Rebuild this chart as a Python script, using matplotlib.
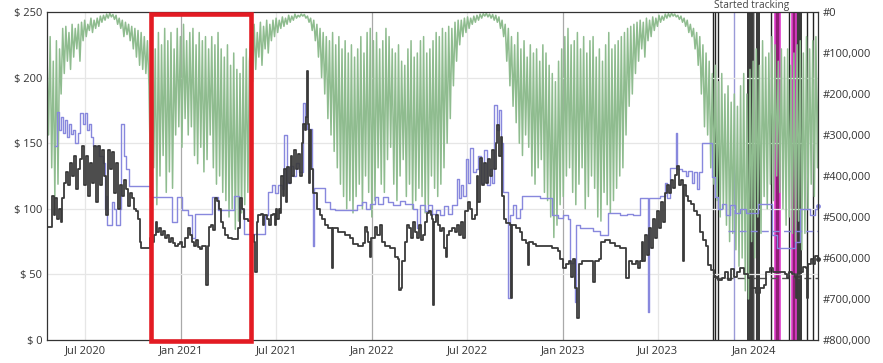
import numpy as np
import matplotlib
matplotlib.use("Agg")
import matplotlib.pyplot as plt
import matplotlib.dates as mdates
import matplotlib.transforms as mtransforms
from matplotlib.patches import Rectangle

plt.rcParams['font.family'] = ['Open Sans', 'DejaVu Sans']

# ---------------- data ----------------
start_date = '2020-04-19'
end_day = 1474
rank_step_days = 3

# sales rank (thousands), sampled every 3 days from start_date
sales_rank_k = [
    # spring 2020
    100, 300, 60, 380, 120, 450, 70, 420, 90, 200,
    40, 150, 35, 120, 50, 140, 30, 110, 40, 90, 30,
    120, 25, 70, 20, 60, 30, 45, 15, 50, 20, 40, 15,
    35, 10, 25, 8, 20, 5, 15, 3, 12, 6, 18, 8,
    30, 15, 40, 20, 60, 25, 55, 30, 70, 35, 90, 40, 110, 45, 130, 50, 140, 60, 150, 70, 180,
    # winter 2020/21
    420, 60, 380, 90, 470, 50, 400, 80, 350, 40, 440, 70, 390, 50, 430, 90, 300, 40, 280, 60,
    330, 30, 260, 70, 300, 50, 280, 40, 350, 80, 370, 50, 330, 70, 390, 60, 360, 90, 300, 60,
    380, 80, 420, 50, 400, 90, 440, 110, 460, 80, 500, 130, 480, 100, 530, 140, 510, 150, 490, 110,
    470, 90, 440, 120,
    # summer 2021
    60, 170, 30, 140, 50, 110, 25, 130, 35, 90, 20, 100, 30, 70, 20, 60, 15, 50, 20, 40,
    12, 35, 15, 30, 8, 25, 10, 20, 5, 15, 8, 12,
    5, 10, 6, 15, 10, 25, 15, 45, 20, 70, 30, 110, 40, 160, 50, 200, 60, 260, 70, 300,
    50, 340, 80, 380, 60, 420, 90, 450, 70, 480, 100, 460, 80, 490, 110,
    # winter 2021/22
    450, 90, 420, 60, 480, 100, 400, 50, 440, 40, 500, 70, 460, 50, 380, 90, 420, 70, 440, 40,
    360, 60, 330, 90, 420, 100, 460, 80, 400, 120, 360, 130, 450, 90, 420, 70, 480, 110, 460, 100,
    430, 70, 450, 60, 490, 100, 470, 90, 400, 70, 430, 50, 450, 60, 420, 40, 380, 50, 320, 35,
    260, 40, 180, 25, 120, 20,
    # summer 2022
    80, 20, 60, 15, 50, 12, 40, 15, 30, 10, 25, 8, 20, 5, 15, 4, 10, 3, 12, 5,
    15, 6, 20, 8, 25, 12, 40, 20, 60, 30, 120, 40, 180,
    60, 230, 80, 270, 50, 320, 90, 350, 70, 300, 110, 330, 80, 400, 100, 420, 90, 380, 120, 360,
    80, 440, 100, 460, 130, 500, 150, 550, 170, 520, 120, 470, 90,
    # winter 2022/23
    450, 60, 400, 40, 380, 80, 440, 70, 470, 50, 420, 90, 380, 60, 480, 100, 450, 70, 400, 60,
    430, 110, 500, 90, 510, 120, 440, 80, 470, 50, 490, 90, 460, 80, 430, 70, 400, 60, 380, 50,
    300, 40, 230, 35, 200, 30, 150,
    # summer 2023
    25, 120, 20, 90, 25, 110, 15, 70, 20, 60, 12, 45, 15, 35, 8, 25, 10, 20, 5, 15,
    4, 12, 3, 10, 5, 12, 8, 18, 10, 25, 15, 35, 20, 50, 30,
    60, 40, 90, 50, 130, 60, 200, 80, 280, 100, 300, 120, 380, 150, 420, 130, 460, 170, 500, 150,
    480, 200, 520, 180, 560, 220, 540, 200, 580, 230, 620, 180, 600, 150, 680, 200, 700, 140,
    # winter 2023/24
    560, 120, 600, 90, 500, 130, 540, 70, 450, 110, 480, 100, 420, 60, 460, 80, 400, 120, 440, 90,
    480, 110, 520, 90, 500, 130, 540, 100, 560, 80, 510, 70, 580, 100, 540, 60, 480, 90, 420, 70,
    450, 60, 380, 90,
]

# used price (dark line): day offset from start_date, price in $
used_days = [
    0, 10, 13, 15, 19, 23, 27, 29, 33, 36, 40, 44, 48, 52, 55, 59, 63, 67, 71, 75,
    78, 82, 86, 90, 94, 98, 101, 105, 109, 113, 117, 120, 124, 128, 132, 136, 140, 143, 147, 151,
    155, 159, 163, 166, 170, 174, 178, 180, 193, 197, 201, 205, 208, 210, 214, 218, 222, 226, 229, 233,
    237, 241, 245, 250, 254, 258, 264, 270, 273, 277, 281, 285, 289, 293, 296, 300, 304, 308, 310, 314,
    317, 321, 325, 329, 333, 337, 340, 346, 354, 361, 365, 369, 373, 377, 384, 390,
    392, 396, 398, 402, 403, 409, 413, 415, 421, 424, 428, 432, 436, 438, 440, 444, 446,
    447, 451, 453, 457, 459, 463, 467, 468, 472, 476, 480, 484, 488, 489, 493, 495, 497, 499, 501, 503,
    505, 509, 516, 522, 526, 532, 537, 543, 545, 547, 553, 556, 570, 579,
    585, 595, 604, 608, 612, 614, 618, 619, 627, 631, 637, 641, 646, 656, 662, 665, 671, 673, 677, 679,
    684, 688, 692, 696, 700, 704, 707, 711, 715, 719, 723, 727, 730, 734, 736, 738, 740, 744, 748, 751,
    755, 759, 763, 765, 769, 774, 780,
    784, 788, 792, 795, 799, 805, 809, 813, 818, 822, 824, 828, 832, 836, 839, 843, 847, 851, 855, 858,
    860, 864, 868, 870, 874, 878, 885, 887, 889, 897, 904, 908, 916, 920, 922, 929, 935, 952, 966, 977,
    981, 987, 992, 998, 1002, 1006, 1010, 1013, 1017, 1023, 1038, 1044, 1048, 1055, 1059, 1067, 1076, 1086, 1096, 1103,
    1107, 1113, 1119, 1126, 1130, 1134, 1138, 1140, 1143, 1147, 1151, 1155, 1159, 1163, 1166, 1170, 1174, 1178, 1182,
    1185, 1189, 1193, 1197, 1201, 1205, 1208, 1212, 1216, 1218, 1222, 1226, 1231, 1237, 1243, 1249, 1254, 1260, 1264, 1270,
    1275, 1283, 1291, 1296, 1302, 1308, 1314, 1319, 1325, 1333, 1340, 1348, 1356, 1363, 1371, 1375, 1382, 1388, 1401, 1411,
    1415, 1419, 1424, 1430, 1432, 1434, 1440, 1445, 1451, 1453, 1455, 1461, 1465, 1468, 1474,
]
used_price = [
    86, 110, 95, 108, 92, 100, 90, 108, 120, 128, 118, 135, 125, 140, 115, 130, 138, 148, 118, 140,
    110, 135, 120, 148, 105, 148, 118, 145, 125, 95, 145, 130, 143, 112, 135, 100, 118, 110, 122, 115,
    102, 112, 108, 100, 98, 92, 75, 70, 70, 78, 75, 80, 90, 82, 85, 80, 83, 78, 80, 75,
    78, 74, 72, 73, 75, 71, 78, 85, 80, 75, 72, 76, 71, 69, 72, 72, 42, 72, 86, 88,
    84, 108, 106, 100, 90, 85, 80, 78, 77, 77, 85, 108, 100, 92, 91, 91,
    80, 75, 52, 90, 95, 96, 88, 95, 92, 88, 95, 96, 88, 100, 92, 100, 97,
    125, 110, 130, 105, 132, 120, 140, 125, 145, 130, 142, 125, 150, 165, 160, 170, 205, 165, 120, 160,
    130, 112, 100, 95, 92, 88, 85, 85, 55, 85, 85, 82, 80, 78,
    73, 72, 74, 86, 82, 75, 63, 78, 86, 80, 88, 75, 72, 70, 70, 63, 62, 38, 40, 60,
    75, 88, 85, 78, 90, 82, 78, 88, 76, 80, 90, 97, 98, 95, 92, 27, 90, 95, 88, 83,
    85, 70, 63, 80, 83, 85, 82,
    88, 80, 90, 78, 98, 105, 100, 92, 95, 125, 105, 139, 118, 135, 120, 138, 125, 145, 130, 150,
    164, 140, 155, 110, 92, 89, 88, 32, 88, 85, 82, 76, 74, 57, 75, 73, 72, 72, 70, 68,
    62, 55, 58, 60, 48, 62, 40, 17, 58, 60, 60, 44, 60, 62, 75, 76, 74, 72, 70, 70,
    47, 60, 58, 60, 55, 60, 75, 60, 80, 65, 85, 70, 92, 78, 98, 85, 105, 90, 112,
    118, 112, 122, 116, 126, 133, 118, 122, 60, 118, 110, 106, 104, 98, 95, 82, 76, 72, 57, 53,
    48, 46, 47, 52, 46, 54, 48, 52, 55, 50, 47, 40, 36, 40, 42, 52, 55, 52, 52, 50,
    47, 52, 50, 48, 32, 50, 52, 56, 55, 32, 58, 62, 58, 64, 62,
]

# new price (blue line)
new_days = [
    15, 19, 23, 27, 31, 34, 38, 42, 46, 50, 54, 59, 63, 69, 73, 76, 80, 84, 88, 94,
    99, 107, 111, 113, 115, 120, 124, 128, 132, 136, 140, 141, 147, 151, 157, 197, 239, 249, 258, 270,
    277, 283, 315, 327, 358, 367, 377, 417, 423, 430, 436, 442, 449, 453, 459, 465, 470, 476, 482, 489,
    493, 497, 507, 509, 511, 522, 532, 541, 551, 593, 602, 610, 618, 627, 633, 642, 652, 662, 675, 684,
    700, 707, 713, 723, 728, 736, 744, 751, 759, 767, 774, 784, 788, 792, 795, 801, 805, 809, 815, 820,
    824, 830, 836, 841, 847, 851, 855, 860, 864, 868, 872, 880, 881, 885, 891, 897, 904, 908, 943, 966,
    977, 987, 996, 1000, 1008, 1010, 1011, 1019, 1044, 1057, 1073, 1096, 1109, 1120, 1134, 1147, 1149, 1151, 1172, 1182,
    1185, 1191, 1201, 1203, 1205, 1214, 1222, 1226, 1233, 1237, 1243, 1247, 1252, 1271, 1277, 1283, 1291, 1298, 1306, 1315,
    1325, 1337, 1359, 1386, 1396, 1430, 1440, 1449, 1459, 1468, 1474,
]
new_price = [
    148, 174, 160, 170, 158, 168, 155, 165, 157, 160, 150, 158, 173, 165, 173, 160, 165, 155, 148, 148,
    140, 135, 100, 110, 88, 88, 105, 100, 88, 88, 100, 165, 140, 130, 117, 109, 90, 109, 99, 95,
    78, 96, 109, 99, 110, 100, 81, 95, 113, 118, 112, 118, 115, 156, 120, 133, 125, 135, 128, 181,
    165, 161, 130, 72, 116, 116, 105, 100, 99, 103, 105, 100, 104, 109, 104, 109, 105, 103, 106, 104,
    100, 85, 103, 98, 103, 96, 99, 95, 102, 96, 103, 123, 108, 118, 110, 138, 120, 146, 128, 130,
    140, 120, 145, 118, 130, 120, 179, 160, 175, 150, 113, 113, 32, 95, 103, 93, 100, 110, 108, 95,
    93, 95, 92, 59, 62, 29, 88, 85, 83, 80, 97, 95, 96, 95, 108, 108, 21, 108, 110, 120,
    108, 131, 131, 158, 130, 129, 125, 129, 120, 128, 115, 128, 150, 124, 109, 100, 104, 95, 103, 97,
    100, 97, 104, 80, 70, 75, 100, 100, 95, 100, 102,
]

used_avg_price = 47
used_avg_from_day = 1277
new_avg_price = 83
new_avg_from_day = 1302

stock_lines_dark = [1273, 1277, 1283, 1384, 1419, 1453, 1465]
stock_lines_blue = [1314]
stock_bands_dark = [(1338, 1354), (1356, 1363), (1432, 1444)]
stock_bands_magenta = [(1391, 1401), (1424, 1432)]
tracking_day = 1348
tracking_label = 'Started tracking'

highlight_start = '2020-11-03'
highlight_end = '2021-05-14'

tick_dates = ['2020-07-01', '2021-01-01', '2021-07-01', '2022-01-01',
              '2022-07-01', '2023-01-01', '2023-07-01', '2024-01-01']
tick_labels = ['Jul 2020', 'Jan 2021', 'Jul 2021', 'Jan 2022',
               'Jul 2022', 'Jan 2023', 'Jul 2023', 'Jan 2024']
price_ticks = [0, 50, 100, 150, 200, 250]
price_labels = ['$ 0', '$ 50', '$ 100', '$ 150', '$ 200', '$ 250']
rank_ticks = [0, 100000, 200000, 300000, 400000, 500000, 600000, 700000, 800000]
rank_labels = ['#0', '#100,000', '#200,000', '#300,000', '#400,000',
               '#500,000', '#600,000', '#700,000', '#800,000']

# ---------------- plot ----------------
C_RANK = '#8fbc8f'
C_NEW = '#8888dd'
C_USED = '#3a3a3a'
TXT = '#333333'

t0 = mdates.date2num(np.datetime64(start_date))

fig = plt.figure(figsize=(8.83, 3.63), dpi=100)
ax_rank = fig.add_axes([47 / 883, 1 - 340 / 363, 771 / 883, 328 / 363])
ax_price = ax_rank.twinx()
ax_rank.yaxis.tick_right()
ax_price.yaxis.tick_left()
ax_price.patch.set_visible(False)

# out-of-stock bands and lines (behind everything)
for a, b in stock_bands_dark:
    ax_rank.axvspan(t0 + a, t0 + b, color='#3c3c3c', lw=0, zorder=1)
for a, b in stock_bands_magenta:
    ax_rank.axvspan(t0 + a, t0 + b, color='#8e1f74', lw=0, zorder=1)
    ax_rank.axvline(t0 + a, color='#e03ccc', lw=1.2, zorder=1.1)
    ax_rank.axvline(t0 + b, color='#e03ccc', lw=1.2, zorder=1.1)
for d in stock_lines_dark:
    ax_rank.axvline(t0 + d, color='#222222', lw=1.0, zorder=1.1)
for d in stock_lines_blue:
    ax_rank.axvline(t0 + d, color='#9a9ad8', lw=1.0, zorder=1.1)

# grid
tick_nums = [mdates.date2num(np.datetime64(d)) for d in tick_dates]
for tn, lab in zip(tick_nums, tick_labels):
    col = '#a9a9a9' if lab.startswith('Jan') else '#e6e6e6'
    ax_rank.axvline(tn, color=col, lw=0.9, zorder=1.3)
trans = mtransforms.blended_transform_factory(ax_rank.transAxes, ax_price.transData)
for p in price_ticks[1:-1]:
    ax_rank.plot([0, 1], [p, p], transform=trans, color='#e6e6e6', lw=0.9, zorder=1.3)

# sales rank
rank_x = t0 + np.arange(len(sales_rank_k)) * rank_step_days
ax_rank.plot(rank_x, np.array(sales_rank_k) * 1000, color=C_RANK, lw=1.1, zorder=3)
ax_rank.set_xlim(t0, t0 + end_day)
ax_rank.set_ylim(800000, 0)

# prices
ax_price.plot(t0 + np.array(new_days), new_price, drawstyle='steps-post',
              color=C_NEW, lw=1.0, zorder=3)
ax_price.plot(t0 + np.array(used_days), used_price, drawstyle='steps-post',
              color=C_USED, lw=1.3, zorder=4)
ax_price.plot([t0 + new_avg_from_day, t0 + end_day], [new_avg_price, new_avg_price],
              color=C_NEW, lw=1.0, ls=(0, (5, 3)), zorder=3)
ax_price.plot([t0 + used_avg_from_day, t0 + end_day], [used_avg_price, used_avg_price],
              color='#555555', lw=1.0, ls=(0, (5, 3)), zorder=3)
ax_price.plot([t0 + used_days[-1]], [used_price[-1]], 'o', ms=2.5, color=C_USED, zorder=5, clip_on=False)
ax_price.plot([t0 + new_days[-1]], [new_price[-1]], 'o', ms=2.5, color=C_NEW, zorder=5, clip_on=False)
ax_price.set_ylim(0, 250)
ax_price.set_xlim(t0, t0 + end_day)

# highlight rectangle
h0 = mdates.date2num(np.datetime64(highlight_start))
h1 = mdates.date2num(np.datetime64(highlight_end))
ax_price.add_patch(Rectangle((h0, -1.1), h1 - h0, 249.6, fill=False,
                             ec='#e31b23', lw=3.3, clip_on=False, zorder=10))

# started tracking label above the plot area
ttrans = mtransforms.blended_transform_factory(ax_price.transData, ax_price.transAxes)
ax_price.text(t0 + tracking_day, 1.011, tracking_label, transform=ttrans, ha='center',
              va='baseline', fontsize=7.3, color='#444444', clip_on=False)

# ticks
ax_rank.set_xticks(tick_nums)
ax_rank.set_xticklabels(tick_labels)
ax_rank.tick_params(axis='x', length=0, pad=4, labelsize=8, labelcolor=TXT)
ax_price.set_yticks(price_ticks)
ax_price.set_yticklabels(price_labels)
ax_price.tick_params(axis='y', length=0, pad=3.5, labelsize=8, labelcolor=TXT)
ax_rank.set_yticks(rank_ticks)
ax_rank.set_yticklabels(rank_labels)
ax_rank.tick_params(axis='y', length=0, pad=3.5, labelsize=8, labelcolor=TXT)

for s in ax_price.spines.values():
    s.set_color('#333333')
    s.set_linewidth(0.9)
    s.set_zorder(6)
for s in ax_rank.spines.values():
    s.set_visible(False)

fig.savefig('out.png', dpi=100)
